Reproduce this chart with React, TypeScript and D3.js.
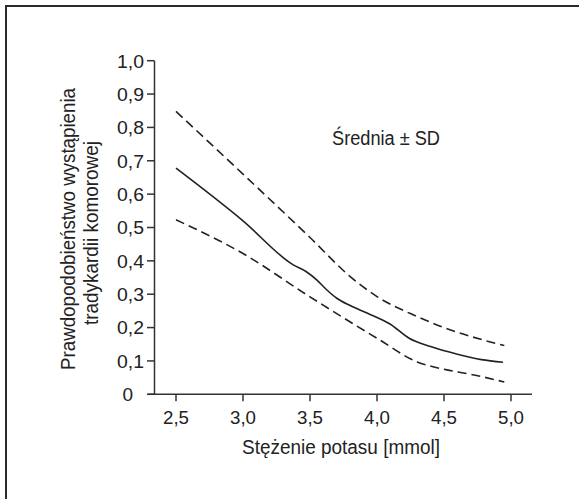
import React from "react";
import * as d3 from "d3";

const xTicks = [2.5, 3.0, 3.5, 4.0, 4.5, 5.0];
const yTicks = [0, 0.1, 0.2, 0.3, 0.4, 0.5, 0.6, 0.7, 0.8, 0.9, 1.0];

const meanX = [2.5, 3.0, 3.375, 3.47, 3.55, 3.62, 3.70, 3.80, 3.93, 4.10, 4.24, 4.40, 4.60, 4.78, 4.94];
const meanY = [0.678, 0.52, 0.388, 0.368, 0.343, 0.315, 0.288, 0.266, 0.243, 0.210, 0.168, 0.143, 0.120, 0.104, 0.096];

const upperX = [2.5, 3.0, 3.5, 3.8, 4.0, 4.3, 4.5, 4.95];
const upperY = [0.848, 0.66, 0.47, 0.353, 0.293, 0.233, 0.200, 0.146];

const lowerX = [2.5, 3.0, 3.5, 4.0, 4.3, 4.5, 4.7, 4.95];
const lowerY = [0.523, 0.422, 0.292, 0.168, 0.097, 0.075, 0.060, 0.037];

const FONT = "'Liberation Sans Narrow', 'Arial Narrow', 'Liberation Sans', Arial, sans-serif";

export default function App() {
  const x = d3.scaleLinear().domain([2.5, 5.0]).range([176, 511]);
  const y = d3.scaleLinear().domain([0, 1]).range([394.3, 60.7]);
  const axisX = 154.5;
  const axisY = 394.3;

  const line = d3
    .line<[number, number]>()
    .x((d) => x(d[0]))
    .y((d) => y(d[1]))
    .curve(d3.curveMonotoneX);

  const mean = meanX.map((v, i) => [v, meanY[i]] as [number, number]);
  const upper = upperX.map((v, i) => [v, upperY[i]] as [number, number]);
  const lower = lowerX.map((v, i) => [v, lowerY[i]] as [number, number]);

  return (
    <svg
      width={579}
      height={499}
      style={{ position: "absolute", left: 0, top: 0, background: "#fff" }}
      fontFamily={FONT}
    >
      <rect x={0} y={0} width={579} height={499} fill="#fff" />
      <rect x={6} y={6} width={620} height={560} fill="none" stroke="#2a2a2a" strokeWidth={2} />

      {/* y axis */}
      <line x1={axisX} x2={axisX} y1={y(1)} y2={axisY} stroke="#333" strokeWidth={1.5} />
      {yTicks.map((t) => (
        <g key={"y" + t}>
          <line x1={axisX - 7.5} x2={axisX} y1={y(t)} y2={y(t)} stroke="#333" strokeWidth={1.5} />
          <text
            x={t === 0 ? 133 : 144}
            y={y(t)}
            dy="0.36em"
            textAnchor="end"
            fontSize={19}
            fill="#222"
            textLength={t === 0 ? undefined : 27}
            lengthAdjust="spacingAndGlyphs"
          >
            {t === 0 ? "0" : d3.format(".1f")(t).replace(".", ",")}
          </text>
        </g>
      ))}

      {/* x axis */}
      <line x1={148} x2={532} y1={axisY} y2={axisY} stroke="#333" strokeWidth={1.5} />
      {xTicks.map((t) => (
        <g key={"x" + t}>
          <line x1={x(t)} x2={x(t)} y1={axisY} y2={axisY + 7} stroke="#333" strokeWidth={1.5} />
          <text
            x={x(t)}
            y={423.5}
            textAnchor="middle"
            fontSize={19}
            fill="#222"
            textLength={26}
            lengthAdjust="spacingAndGlyphs"
          >
            {d3.format(".1f")(t).replace(".", ",")}
          </text>
        </g>
      ))}

      <text
        x={242}
        y={453.5}
        fontSize={20.5}
        fill="#222"
        textLength={198}
        lengthAdjust="spacingAndGlyphs"
      >
        Stężenie potasu [mmol]
      </text>

      <g transform="translate(0,370) rotate(-90)">
        <text x={0} y={75} fontSize={20.5} fill="#222" textLength={282} lengthAdjust="spacingAndGlyphs">
          Prawdopodobieństwo wystąpienia
        </text>
        <text x={45} y={98} fontSize={20.5} fill="#222" textLength={184} lengthAdjust="spacingAndGlyphs">
          tradykardii komorowej
        </text>
      </g>

      <text x={332} y={145} fontSize={19.5} fill="#222" textLength={108} lengthAdjust="spacingAndGlyphs">
        Średnia ± SD
      </text>

      <path d={line(upper) || ""} fill="none" stroke="#222" strokeWidth={1.6} strokeDasharray="9,5" />
      <path d={line(lower) || ""} fill="none" stroke="#222" strokeWidth={1.6} strokeDasharray="9,5" />
      <path d={line(mean) || ""} fill="none" stroke="#222" strokeWidth={1.6} />
    </svg>
  );
}
